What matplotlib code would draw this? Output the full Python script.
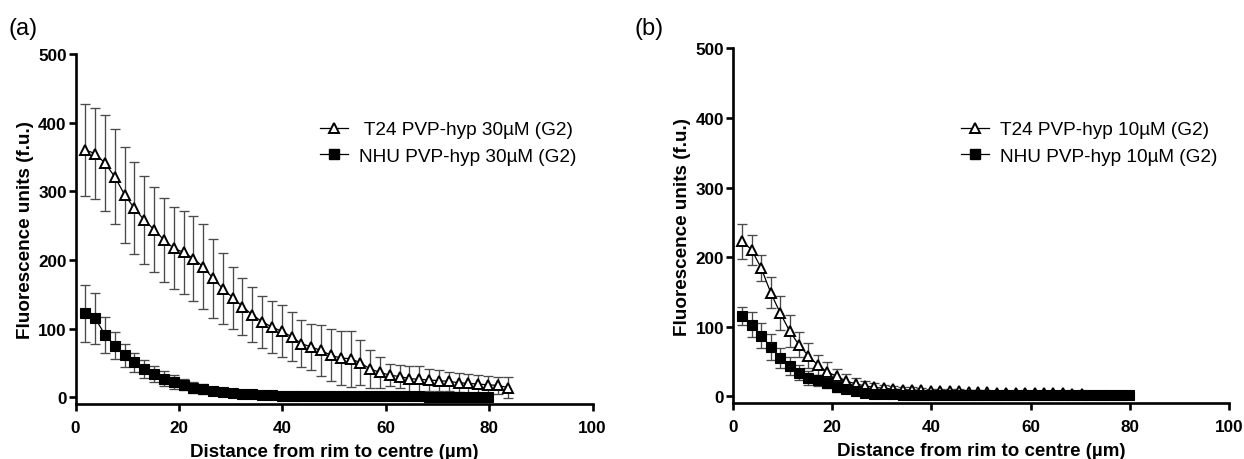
import matplotlib
matplotlib.use("Agg")
import matplotlib.pyplot as plt
from matplotlib.lines import Line2D

plt.rcParams['font.family'] = ['Liberation Sans', 'DejaVu Sans']

# ---------------- data ----------------
distance = [1.9, 3.8, 5.7, 7.6, 9.5, 11.4, 13.3, 15.2, 17.1, 19.0, 20.9, 22.8,
            24.7, 26.6, 28.5, 30.4, 32.3, 34.2, 36.1, 38.0, 39.9, 41.8, 43.7,
            45.6, 47.5, 49.4, 51.3, 53.2, 55.1, 57.0, 58.9, 60.8, 62.7, 64.6,
            66.5, 68.4, 70.3, 72.2, 74.1, 76.0, 77.9, 79.8, 81.7, 83.6]

# panel (a) 30 uM
t24_30 = [360, 355, 341, 321, 295, 275, 258, 244, 229, 217, 211, 202, 190, 173,
          158, 145, 132, 120, 110, 102, 96, 88, 78, 73, 68, 61, 57, 56, 50, 41,
          36, 32, 30, 27, 26, 25, 24, 23, 21, 20, 19, 18, 17, 14]
t24_30_sd = [67, 67, 70, 69, 70, 67, 64, 62, 61, 60, 60, 62, 62, 57, 52, 45, 42,
             40, 38, 38, 38, 36, 34, 34, 37, 38, 40, 41, 33, 27, 22, 16, 17, 19,
             20, 16, 15, 14, 14, 14, 13, 13, 13, 15]
nhu_30 = [122, 115, 91, 75, 61, 51, 41, 34, 27, 22, 18, 14, 12, 9, 7, 6, 5, 4,
          3, 2.5, 2, 2, 1.5, 1.5, 1.2, 1, 1, 1, 1, 1, 1, 1, 1, 1, 1, 0.8, 0.8,
          0.8, 0.8, 0.8, 0.8, 0.8]
nhu_30_sd = [41, 37, 26, 20, 17, 14, 13, 12, 11, 10, 8, 8, 7, 5, 4, 3, 2.5, 2,
             2, 1.5, 1.5, 1, 1, 1, 1, 1, 1, 1, 1, 1, 1, 1, 1, 1, 1, 1, 1, 1, 1,
             1, 1, 1]

# panel (b) 10 uM
t24_10 = [223, 210, 184, 149, 120, 94, 74, 58, 45, 35, 29, 22, 18, 15, 13, 11.5,
          10.5, 9.5, 9, 8.5, 8, 7.5, 7, 7, 6.5, 6, 6, 5.5, 5.5, 5, 5, 5, 4.5,
          4.5, 4.5, 4, 4]
t24_10_sd = [25, 22, 19, 22, 24, 23, 18, 18, 15, 14, 10, 10, 8, 7, 6, 5, 5, 4,
             4, 4, 3, 3, 3, 3, 3, 3, 2, 2, 2, 2, 2, 2, 2, 2, 2, 2, 2]
nhu_10 = [115, 103, 87, 71, 55, 43, 34, 27, 23, 19, 13, 10, 7, 5, 4, 3.5, 3,
          2.5, 2.5, 2, 2, 2, 2, 2, 2, 2, 2, 2, 2, 2, 2, 2, 2, 2, 2, 2, 2, 2, 2,
          2, 2, 2]
nhu_10_sd = [13, 18, 18, 19, 15, 13, 11, 10, 8, 7, 7, 5, 4, 3, 3, 2, 2, 2, 2,
             1.5, 1.5, 1.5, 1, 1, 1, 1, 1, 1, 1, 1, 1, 1, 1, 1, 1, 1, 1, 1, 1,
             1, 1, 1]

labels_a = [' T24 PVP-hyp 30\u00b5M (G2)', 'NHU PVP-hyp 30\u00b5M (G2)']
labels_b = ['T24 PVP-hyp 10\u00b5M (G2)', 'NHU PVP-hyp 10\u00b5M (G2)']
xlabel = 'Distance from rim to centre (\u00b5m)'
ylabel = 'Fluorescence units (f.u.)'
xticks = [0, 20, 40, 60, 80, 100]
yticks = [0, 100, 200, 300, 400, 500]

W, H = 1244, 460
fig = plt.figure(figsize=(W / 100, H / 100), dpi=100)

ax_a = fig.add_axes([75.5 / W, 1 - 405 / H, 517 / W, 350 / H])
ax_b = fig.add_axes([733 / W, 1 - 404.3 / H, 496 / W, 355 / H])

ERR_C = '#4a4a4a'
MS = 7.2


def draw(ax, t24, t24sd, nhu, nhusd, labels, leg_x):
    n1 = len(t24)
    n2 = len(nhu)
    ax.errorbar(distance[:n1], t24, yerr=t24sd, fmt='none', ecolor=ERR_C,
                elinewidth=0.95, capsize=3.6, capthick=0.95, zorder=2)
    ax.plot(distance[:n1], t24, color='black', lw=0.9, marker='^', ms=MS,
            mfc='white', mec='black', mew=1.4, zorder=3)
    ax.errorbar(distance[:n2], nhu, yerr=nhusd, fmt='none', ecolor=ERR_C,
                elinewidth=0.95, capsize=3.6, capthick=0.95, zorder=4)
    ax.plot(distance[:n2], nhu, color='black', lw=0.9, marker='s', ms=MS - 0.4,
            mfc='black', mec='black', mew=0.8, zorder=5)
    ax.set_xlim(0, 100)
    ax.set_ylim(-10, 500)
    ax.set_xticks(xticks)
    ax.set_yticks(yticks)
    for s in ['top', 'right']:
        ax.spines[s].set_visible(False)
    for s in ['left', 'bottom']:
        ax.spines[s].set_linewidth(1.9)
    ax.tick_params(direction='out', length=4.8, width=1.9, labelsize=12.3)
    ax.tick_params(axis='x', pad=6.5)
    ax.tick_params(axis='y', pad=1.5)
    for lab in ax.get_xticklabels() + ax.get_yticklabels():
        lab.set_fontweight('bold')
    ax.set_xlabel(xlabel, fontsize=13.5, fontweight='bold', labelpad=6)
    ax.set_ylabel(ylabel, fontsize=13.6, fontweight='bold', labelpad=3)
    handles = [
        Line2D([], [], color='black', lw=0.9, marker='^', ms=MS, mfc='white',
               mec='black', mew=1.4),
        Line2D([], [], color='black', lw=0.9, marker='s', ms=MS - 0.4,
               mfc='black', mec='black'),
    ]
    ax.legend(handles, labels, loc='upper left',
              bbox_to_anchor=(leg_x / W, 1 - 122 / H),
              bbox_transform=fig.transFigure, frameon=False, fontsize=13.7,
              handlelength=1.45, handletextpad=0.6, labelspacing=0.5,
              borderpad=0, borderaxespad=0)


draw(ax_a, t24_30, t24_30_sd, nhu_30, nhu_30_sd, labels_a, 320)
draw(ax_b, t24_10, t24_10_sd, nhu_10, nhu_10_sd, labels_b, 961)

fig.text(9 / W, 1 - 29 / H, '(a)', fontsize=17, va='center', ha='left')
fig.text(634 / W, 1 - 29 / H, '(b)', fontsize=17, va='center', ha='left')

fig.savefig('out.png', dpi=100)
